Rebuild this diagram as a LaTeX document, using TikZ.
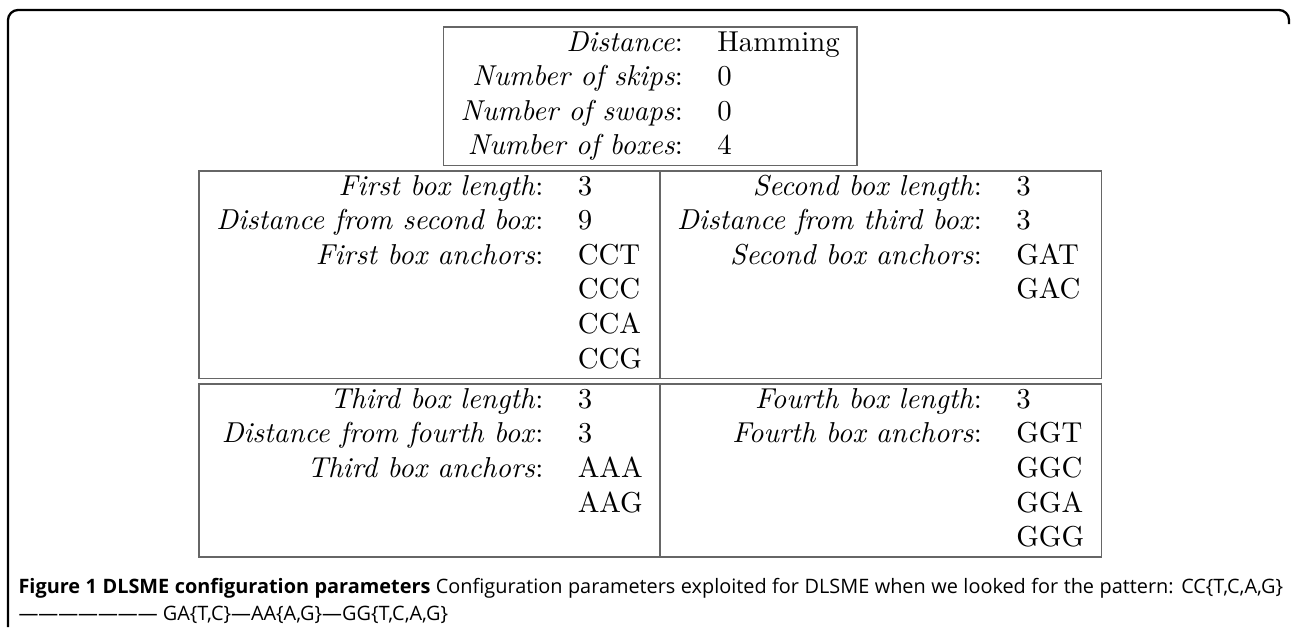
\documentclass[tikz,border=0pt]{standalone}
\usepackage{fontspec}
\usepackage{array}
\usetikzlibrary{positioning,calc}
\newfontfamily\capfont{Open Sans}

\newlength{\keyL}
\newlength{\valL}
\newlength{\keyR}
\newlength{\valR}
\AtBeginDocument{%
  \settowidth{\keyL}{\textit{Distance from second box}:}%
  \settowidth{\valL}{AAA}%
  \settowidth{\keyR}{\textit{Distance from third box}:}%
  \settowidth{\valR}{GGG}}

\tikzset{
  cellbox/.style={draw=black!60, line width=0.5pt, inner sep=0pt, outer sep=0pt},
  frameline/.style={line width=0.8pt, rounded corners=3.5pt},
  captext/.style={inner sep=0pt, anchor=base west, font=\capfont\fontsize{6.9}{8.3}\selectfont}
}

\begin{document}
\begin{tikzpicture}[x=0.3472pt, y=-0.3472pt]
                    \useasboundingbox (0,0) rectangle (1292,627);

                    % outer frame
                    \draw[frameline] (8,627) -- (8,10) -- (1289,10) -- (1289,24);

                    % the four boxes
                    \node[cellbox, anchor=north west] (box1) at (199,171) {%
                        \begin{tabular}{w{r}{\keyL}w{l}{\valL}}
                        \textit{First box length}: & 3 \\
                        \textit{Distance from second box}: & 9 \\
                        \textit{First box anchors}: & CCT \\
                         & CCC \\
                         & CCA \\
                         & CCG
                        \end{tabular}};
                    \node[cellbox, right=0pt of box1] (box2) {%
                        \begin{tabular}{w{r}{\keyR}w{l}{\valR}}
                        \textit{Second box length}: & 3 \\
                        \textit{Distance from third box}: & 3 \\
                        \textit{Second box anchors}: & GAT \\
                         & GAC \\
                         & \\
                         &
                        \end{tabular}};
                    \node[cellbox, below=2pt of box1] (box3) {%
                        \begin{tabular}{w{r}{\keyL}w{l}{\valL}}
                        \textit{Third box length}: & 3 \\
                        \textit{Distance from fourth box}: & 3 \\
                        \textit{Third box anchors}: & AAA \\
                         & AAG \\
                         &
                        \end{tabular}};
                    \node[cellbox, right=0pt of box3] (box4) {%
                        \begin{tabular}{w{r}{\keyR}w{l}{\valR}}
                        \textit{Fourth box length}: & 3 \\
                        \textit{Fourth box anchors}: & GGT \\
                         & GGC \\
                         & GGA \\
                         & GGG
                        \end{tabular}};

                    % general parameters
                    \coordinate (gridtop) at ($(box1.north west)!0.5!(box2.north east)$);
                    \node[cellbox, above=2pt of gridtop] (params) {%
                        \begin{tabular}{rl}
                        \textit{Distance}: & Hamming \\
                        \textit{Number of skips}: & 0 \\
                        \textit{Number of swaps}: & 0 \\
                        \textit{Number of boxes}: & 4
                        \end{tabular}};

                    % caption
                    \node[captext] (cap1) at (18,593) {\makebox[439pt][s]{{\bfseries Figure 1 DLSME configuration parameters} Configuration parameters exploited for DLSME when we looked for the pattern: CC\{T,C,A,G\}}};
                    \node[captext] (cap2) at ($(cap1.base west)+(0,27)$) {——————— GA\{T,C\}—AA\{A,G\}—GG\{T,C,A,G\}};
\end{tikzpicture}
\end{document}
